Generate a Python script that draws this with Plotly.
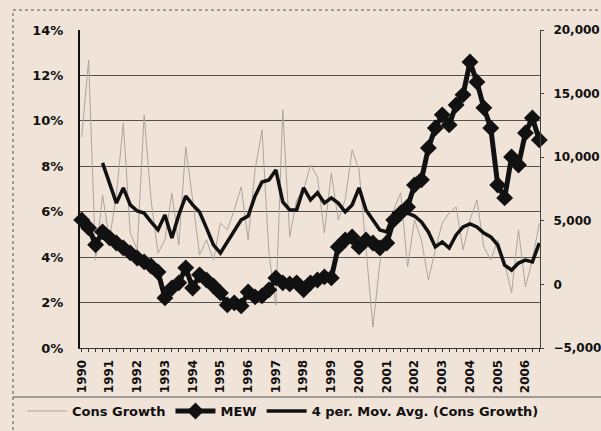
import plotly.graph_objects as go

# ---------------- data ----------------
quarters = [f"{y}Q{q}" for y in range(1990, 2007) for q in range(1, 5)][:67]

cons_growth = [9.29, 12.68, 3.87, 6.74, 4.76, 6.74, 9.91, 5.06, 4.32, 10.26,
               6.52, 4.18, 4.76, 6.83, 4.54, 8.85, 6.52, 4.10, 4.76, 3.87,
               5.50, 5.20, 6.08, 7.09, 4.76, 7.84, 9.60, 4.18, 1.89, 10.48,
               4.89, 6.52, 6.96, 8.06, 7.53, 5.06, 7.71, 5.64, 6.52, 8.72,
               7.84, 4.32, 0.92, 3.74, 5.20, 6.08, 6.83, 3.57, 5.64, 4.76,
               2.99, 4.32, 5.50, 5.94, 6.21, 4.32, 5.64, 6.52, 4.45, 3.87,
               4.76, 3.74, 2.42, 5.20, 2.69, 3.87, 5.50]

mew = [5070, 4440, 3110, 4130, 3660, 3260, 2870, 2480, 2080, 1770,
       1450, 980, -1060, -280, 120, 1300, -280, 750, 350, -120,
       -670, -1610, -1450, -1690, -590, -980, -900, -430, 510, 120,
       40, 120, -430, 120, 350, 590, 510, 2950, 3500, 3730,
       2950, 3500, 3260, 2870, 3260, 5070, 5620, 6090, 7820, 8220,
       10730, 12300, 13330, 12540, 14110, 14900, 17490, 15920, 13880, 12300,
       7820, 6800, 10020, 9390, 11910, 13090, 11360]

mov_avg = [None, None, None, 8.15, 7.27, 6.38, 7.05, 6.30, 6.03, 5.94,
           5.55, 5.20, 5.86, 4.84, 5.86, 6.69, 6.30, 5.99, 5.28, 4.54,
           4.18, 4.67, 5.20, 5.64, 5.81, 6.69, 7.31, 7.40, 7.84, 6.43,
           6.08, 6.08, 7.05, 6.52, 6.83, 6.38, 6.61, 6.38, 5.99, 6.30,
           7.05, 6.08, 5.64, 5.20, 5.11, 5.94, 5.90, 5.94, 5.81, 5.55,
           5.11, 4.45, 4.67, 4.40, 4.98, 5.33, 5.46, 5.33, 5.06, 4.89,
           4.54, 3.65, 3.43, 3.74, 3.87, 3.79, 4.62]

# ---------------- styling ----------------
W, H = 601, 431
L, R, T, B = 80, 540, 30, 348
BG = "#f0e3d8"
FONT = "DejaVu Sans"

x = [int(q[:4]) + (int(q[-1]) - 1) / 4 for q in quarters]

def px_x(p):
    return (p - L) / (R - L)

def px_y(p):
    return (B - p) / (B - T)

fig = go.Figure()
fig.add_trace(go.Scatter(
    x=x, y=cons_growth, name="Cons Growth", mode="lines",
    line=dict(color="#aca59f", width=1), yaxis="y"))
fig.add_trace(go.Scatter(
    x=x, y=mew, name="MEW", mode="lines+markers",
    line=dict(color="#111111", width=5),
    marker=dict(symbol="diamond", size=13, color="#111111"),
    yaxis="y2", cliponaxis=False))
fig.add_trace(go.Scatter(
    x=x, y=mov_avg, name="4 per. Mov. Avg. (Cons Growth)", mode="lines",
    line=dict(color="#111111", width=3.5), yaxis="y"))

fig.update_layout(
    width=W, height=H,
    margin=dict(l=L, r=W - R, t=T, b=H - B, autoexpand=False),
    paper_bgcolor=BG, plot_bgcolor=BG,
    font=dict(family=FONT, color="#111111", size=13),
    xaxis=dict(
        range=[1990 - 0.25 * 0.25, 1990 + 66.1 / 4], automargin=False,
        tickmode="linear", tick0=1990, dtick=1, tickformat="d",
        tickangle=-90, tickfont=dict(size=12, weight="bold"),
        ticks="outside", ticklen=3, tickcolor="#333",
        minor=dict(dtick=0.25, ticks="outside", ticklen=3, tickcolor="#333"),
        showline=True, linecolor="#333", linewidth=1,
        showgrid=False, zeroline=False, ticklabelstandoff=3),
    yaxis=dict(
        range=[0, 14], dtick=2, ticksuffix="%", automargin=False,
        tickfont=dict(size=13, weight="bold"),
        showgrid=True, gridcolor="#55504b", gridwidth=1,
        showline=True, linecolor="#111", linewidth=2,
        zeroline=False, ticklabelstandoff=12),
    yaxis2=dict(
        range=[-5000, 20000], dtick=5000, tickformat=",", automargin=False,
        overlaying="y", side="right",
        tickfont=dict(size=12, weight="bold"),
        showgrid=False, showline=True, linecolor="#444", linewidth=1,
        ticks="outside", ticklen=3, tickcolor="#444",
        zeroline=False, ticklabelstandoff=7),
    showlegend=True,
    legend=dict(
        orientation="h", x=px_x(22), xanchor="left",
        y=px_y(411), yanchor="middle",
        bgcolor="rgba(0,0,0,0)", font=dict(size=13, weight="bold"),
        itemwidth=40, tracegroupgap=0),
    shapes=[
        dict(type="rect", xref="paper", yref="paper",
             x0=px_x(13), x1=px_x(610), y0=px_y(10), y1=px_y(445),
             line=dict(color="#555", width=1, dash="dot")),
        dict(type="line", xref="paper", yref="paper",
             x0=px_x(13), x1=px_x(610), y0=px_y(397), y1=px_y(397),
             line=dict(color="#555", width=1)),
    ],
)

fig.write_html("out.html",
               config={"displayModeBar": False},
               post_script="document.body.style.margin='0';"
                           "document.body.style.background='" + BG + "';")
